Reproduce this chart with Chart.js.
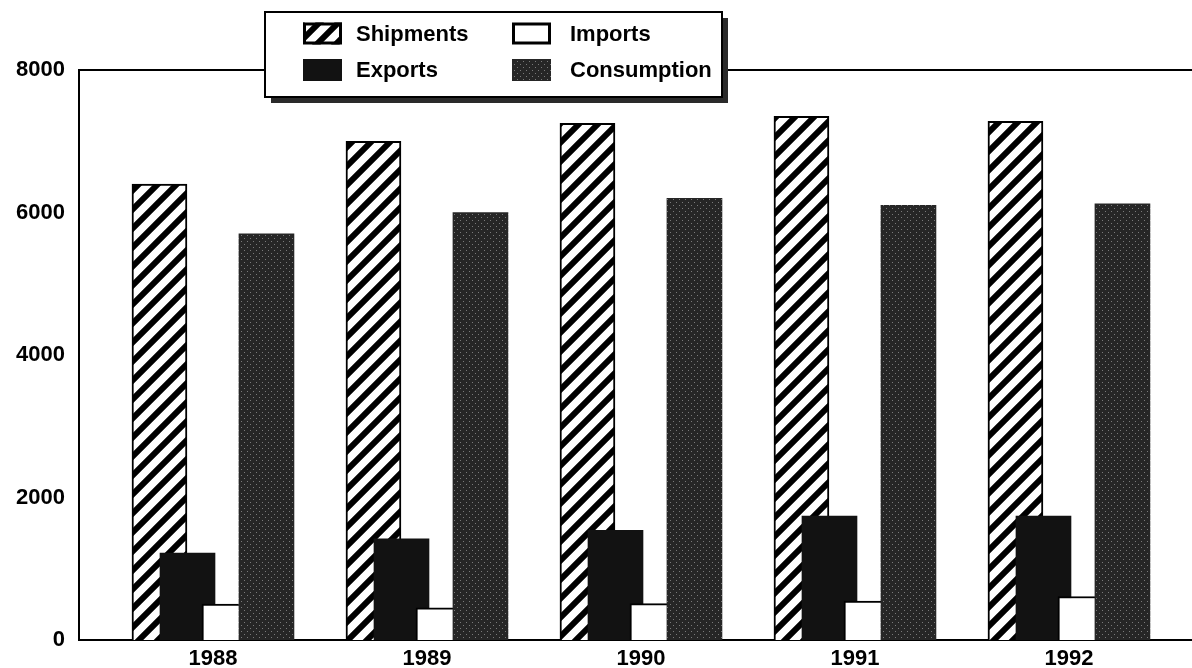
<!DOCTYPE html>
<html>
<head>
<meta charset="utf-8">
<script src="https://cdn.jsdelivr.net/npm/chart.js@4"></script>
<style>
  body { margin: 0; background: #fff; }
  #wrap { width: 1192px; height: 668px; position: relative; }
</style>
</head>
<body>
<div id="wrap"><canvas id="steelChart"></canvas></div>
<script>
const years = [1988, 1989, 1990, 1991, 1992];
const shipments = [6400, 7000, 7250, 7350, 7280];
const exportsData = [1220, 1420, 1540, 1740, 1740];
const imports = [505, 450, 510, 545, 610];
const consumption = [5700, 6000, 6200, 6100, 6120];
const yTicks = [0, 2000, 4000, 6000, 8000];

const FONT = '"Liberation Sans", Arial, Helvetica, sans-serif';

// fill patterns
const makePattern = (w, h, draw) => {
  const c = document.createElement('canvas');
  c.width = w;
  c.height = h;
  const g = c.getContext('2d');
  draw(g);
  return g.createPattern(c, 'repeat');
};

const hatch = makePattern(19, 19, (g) => {
  g.fillStyle = '#fff';
  g.fillRect(0, 0, 19, 19);
  g.strokeStyle = '#000';
  g.lineWidth = 6;
  g.beginPath();
  g.moveTo(-2, 21); g.lineTo(21, -2);
  g.moveTo(-4, 4); g.lineTo(4, -4);
  g.moveTo(15, 23); g.lineTo(23, 15);
  g.stroke();
});

const stipple = makePattern(6, 6, (g) => {
  g.fillStyle = '#262626';
  g.fillRect(0, 0, 6, 6);
  g.fillStyle = '#7a7a7a';
  g.fillRect(1, 1, 1, 1);
  g.fillRect(4, 4, 1, 1);
});

// x range (years) and per-series shift inside a group
const xMin = 1987.374;
const xMax = 1992.575;
const shift = { xS: -0.25, xE: -0.119, xI: 0.077, xC: 0.25 };

const hiddenX = (id) => ({
  type: 'linear',
  display: false,
  offset: false,
  min: xMin - shift[id],
  max: xMax - shift[id],
});

const frameAndLegend = {
  id: 'frameAndLegend',
  beforeDatasetsDraw(chart) {
    const { ctx, chartArea } = chart;
    ctx.save();
    ctx.strokeStyle = '#000';
    ctx.lineWidth = 2;
    ctx.beginPath();
    ctx.moveTo(chartArea.left - 1, chartArea.top);
    ctx.lineTo(chartArea.right, chartArea.top);
    ctx.stroke();
    ctx.restore();
  },
  afterDraw(chart) {
    const ctx = chart.ctx;
    const ds = chart.data.datasets;
    const box = { x: 265, y: 12, w: 457, h: 85 };
    ctx.save();
    // shadow
    ctx.fillStyle = '#2a2a2a';
    ctx.fillRect(box.x + 6, box.y + 6, box.w, box.h);
    ctx.fillStyle = '#fff';
    ctx.fillRect(box.x, box.y, box.w, box.h);
    ctx.strokeStyle = '#000';
    ctx.lineWidth = 2;
    ctx.strokeRect(box.x, box.y, box.w, box.h);

    // legend layout: [Shipments, Imports] / [Exports, Consumption]
    const items = [
      { d: ds[0], sx: 303, tx: 356, cy: 33.5 },
      { d: ds[2], sx: 512, tx: 570, cy: 33.5 },
      { d: ds[1], sx: 303, tx: 356, cy: 70 },
      { d: ds[3], sx: 512, tx: 570, cy: 70 },
    ];
    ctx.font = 'bold 22px ' + FONT;
    ctx.textBaseline = 'middle';
    ctx.textAlign = 'left';
    items.forEach((it) => {
      const sw = 39, sh = 22;
      const sy = it.cy - sh / 2;
      ctx.fillStyle = it.d.backgroundColor;
      ctx.fillRect(it.sx, sy, sw, sh);
      if (it.d.borderWidth) {
        ctx.lineWidth = 3;
        ctx.strokeStyle = '#000';
        ctx.strokeRect(it.sx + 1.5, sy + 1.5, sw - 3, sh - 3);
      }
      ctx.fillStyle = '#000';
      ctx.fillText(it.d.label, it.tx, it.cy + 1);
    });
    ctx.restore();
  },
};

const data = {
  labels: years,
  datasets: [
    {
      label: 'Shipments',
      data: shipments,
      xAxisID: 'xS',
      backgroundColor: hatch,
      borderColor: '#000',
      borderWidth: 2,
      order: 3,
    },
    {
      label: 'Exports',
      data: exportsData,
      xAxisID: 'xE',
      backgroundColor: '#121212',
      borderWidth: 0,
      order: 2,
    },
    {
      label: 'Imports',
      data: imports,
      xAxisID: 'xI',
      backgroundColor: '#fff',
      borderColor: '#000',
      borderWidth: 2,
      order: 1,
    },
    {
      label: 'Consumption',
      data: consumption,
      xAxisID: 'xC',
      backgroundColor: stipple,
      borderWidth: 0,
      order: 0,
    },
  ],
};

const config = {
  type: 'bar',
  data: data,
  plugins: [frameAndLegend],
  options: {
    responsive: true,
    maintainAspectRatio: false,
    animation: false,
    grouped: false,
    categoryPercentage: 1,
    barPercentage: 1,
    maxBarThickness: 55,
    layout: { padding: { top: 70, right: 0, left: 0, bottom: 0 } },
    plugins: {
      legend: { display: false },
      tooltip: { enabled: false },
    },
    scales: {
      x: {
        type: 'linear',
        position: 'bottom',
        offset: false,
        min: xMin,
        max: xMax,
        afterBuildTicks: (scale) => {
          scale.ticks = years.map((v) => ({ value: v }));
        },
        afterFit: (scale) => {
          scale.height = 28;
        },
        ticks: {
          callback: (value) => String(value),
          font: { family: FONT, size: 22, weight: 'bold' },
          color: '#000',
          padding: 6,
          maxRotation: 0,
        },
        grid: { display: false, drawTicks: false },
        border: { display: true, color: '#000', width: 2 },
      },
      xS: hiddenX('xS'),
      xE: hiddenX('xE'),
      xI: hiddenX('xI'),
      xC: hiddenX('xC'),
      y: {
        min: 0,
        max: 8000,
        afterBuildTicks: (scale) => {
          scale.ticks = yTicks.map((v) => ({ value: v }));
        },
        afterFit: (scale) => {
          scale.width = 79;
        },
        ticks: {
          callback: (value) => String(value),
          font: { family: FONT, size: 22, weight: 'bold' },
          color: '#000',
          padding: 14,
        },
        grid: { display: false, drawTicks: false },
        border: { display: true, color: '#000', width: 2 },
      },
    },
  },
};

new Chart(document.getElementById('steelChart'), config);
</script>
</body>
</html>
